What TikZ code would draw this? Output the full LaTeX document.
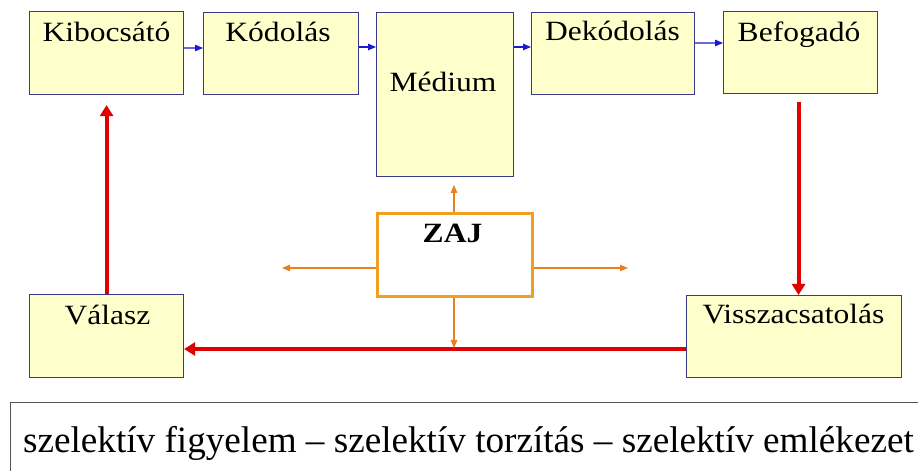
\documentclass[tikz,border=0pt]{standalone}
\usepackage{fontspec}
\setmainfont{Liberation Serif}
\newfontfamily\boxfont{Liberation Serif}[FakeStretch=1.13]
\usetikzlibrary{arrows.meta,calc}
\definecolor{boxfill}{HTML}{FFFFCC}
\definecolor{boxline}{HTML}{3A3A8C}
\definecolor{flowblue}{HTML}{1A1AD0}
\definecolor{loopred}{HTML}{E00000}
\definecolor{noiseline}{HTML}{E8801E}
\definecolor{noisebox}{HTML}{F0A020}
\definecolor{frameline}{HTML}{555555}
\tikzset{
  box/.style={draw=boxline, fill=boxfill, line width=1.1bp, inner sep=0pt,
    anchor=north west},
  boxtext/.style={font=\boxfont\fontsize{28}{31}\selectfont, inner sep=0pt,
    anchor=base},
  blueflow/.style={draw=flowblue, line width=1.1bp,
    -{Triangle[length=8bp,width=6.5bp]}},
  redloop/.style={draw=loopred, line width=4bp,
    -{Triangle[length=11bp,width=13bp]}},
  noise/.style={draw=noiseline, line width=1.1bp,
    -{Triangle[length=8bp,width=6.5bp]}},
}
\begin{document}
\begin{tikzpicture}[x=1bp,y=-1bp]
\useasboundingbox (0,0) rectangle (918,471);

% main chain of boxes
\node[box, minimum width=154bp, minimum height=83bp] (kib) at (29,11) {};
\node[box, minimum width=155bp, minimum height=82bp] (kod) at (203,12) {};
\node[box, minimum width=137bp, minimum height=164bp] (med) at (376,12) {};
\node[box, minimum width=163bp, minimum height=82bp] (dek) at (531,12) {};
\node[box, minimum width=154bp, minimum height=82bp] (bef) at (723,11) {};
\node[box, minimum width=154bp, minimum height=83bp] (val) at (29,294) {};
\node[box, minimum width=215bp, minimum height=82bp] (vis) at (686,295) {};

% labels
\node[boxtext] at (106.5,42) {Kibocsátó};
\node[boxtext] at (278,42) {Kódolás};
\node[boxtext] at (443,92) {Médium};
\node[boxtext] at (612.5,41) {Dekódolás};
\node[boxtext] at (799,42) {Befogadó};
\node[boxtext] at (107.5,325) {Válasz};
\node[boxtext] at (793.5,324) {Visszacsatolás};

% noise box
\node[draw=noisebox, line width=3bp, fill=white, inner sep=0pt,
  minimum width=155bp, minimum height=83bp, anchor=north west] (zaj) at (376,212) {};
\node[boxtext, font=\boxfont\fontsize{28}{31}\selectfont\bfseries] at (452.5,243) {ZAJ};

% forward flow
\draw[blueflow] ([yshift=-37bp]kib.north east) -- ([yshift=-36bp]kod.north west);
\draw[blueflow] ([yshift=-35bp]kod.north east) -- ([yshift=-35bp]med.north west);
\draw[blueflow] ([yshift=-35bp]med.north east) -- ([yshift=-35bp]dek.north west);
\draw[blueflow] ([yshift=-31bp]dek.north east) -- ([yshift=-32bp]bef.north west);

% feedback loop
\coordinate (befout) at ([xshift=-2bp,yshift=-8bp]bef.south);
\coordinate (visout) at ([yshift=-54bp]vis.north west);
\coordinate (kibin) at ([yshift=-10bp]kib.south);
\draw[redloop] (befout) -- (befout |- vis.north);
\draw[redloop] (visout) -- (visout -| val.east);
\draw[redloop] (val.north) -- (kibin);

% noise spreading out
\coordinate (nup) at (454,185);
\coordinate (ndown) at (454,348);
\coordinate (nleft) at (282,268);
\coordinate (nright) at (628,268);
\draw[noise] (zaj.north -| nup) -- (nup);
\draw[noise] (zaj.south -| ndown) -- (ndown);
\draw[noise] (zaj.west |- nleft) -- (nleft);
\draw[noise] (zaj.east |- nright) -- (nright);

% selective processes
\node[draw=frameline, line width=1.1bp, inner sep=0pt, anchor=north west,
  minimum width=920bp, minimum height=80bp] (sel) at (10,402) {};
\node[font=\fontsize{37.3}{40}\selectfont, inner sep=0pt, anchor=base west]
  at (23,452) {szelektív figyelem – szelektív torzítás – szelektív emlékezet};
\end{tikzpicture}
\end{document}
